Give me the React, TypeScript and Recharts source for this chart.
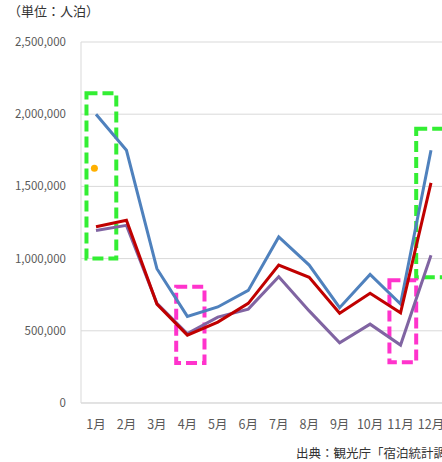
import React from "react";
import {
  LineChart,
  Line,
  XAxis,
  YAxis,
  CartesianGrid,
  ReferenceArea,
  ReferenceDot,
} from "recharts";

// 月ラベル
const months = ["1月", "2月", "3月", "4月", "5月", "6月", "7月", "8月", "9月", "10月", "11月", "12月"];

// 3系列（人泊）
const seriesBlue = [2000000, 1750000, 930000, 600000, 665000, 780000, 1150000, 955000, 660000, 890000, 685000, 1750000];
const seriesRed = [1220000, 1265000, 685000, 470000, 560000, 690000, 955000, 870000, 622000, 760000, 625000, 1525000];
const seriesPurple = [1195000, 1230000, 690000, 480000, 595000, 650000, 875000, 638000, 417000, 546000, 401000, 1023000];

const yTicks = [0, 500000, 1000000, 1500000, 2000000, 2500000];

// 注目枠（月位置 x, 値 y）
const greenBoxes = [
  { x1: 0.68, x2: 1.66, y1: 1000000, y2: 2145000 },
  { x1: 11.52, x2: 12.8, y1: 870000, y2: 1900000 },
];
const pinkBoxes = [
  { x1: 3.63, x2: 4.56, y1: 277000, y2: 805000 },
  { x1: 10.64, x2: 11.52, y1: 283000, y2: 850000 },
];
const highlightDot = { x: 0.94, y: 1625000 };

const data = months.map((m, i) => ({
  month: m,
  monthNo: i + 1,
  blue: seriesBlue[i],
  red: seriesRed[i],
  purple: seriesPurple[i],
}));

const AXIS_TEXT = "#595959";
const FONT = "'Noto Sans CJK JP', 'Noto Sans', sans-serif";

export default function App() {
  return (
    <div
      style={{
        position: "absolute",
        left: 0,
        top: 0,
        width: 442,
        height: 462,
        overflow: "hidden",
        background: "#fff",
        fontFamily: FONT,
      }}
    >
      <div style={{ position: "absolute", left: 8, top: 1, fontSize: 13, color: "#333" }}>
        （単位：人泊）
      </div>
      <LineChart
        width={451}
        height={462}
        data={data}
        margin={{ top: 42, right: 5, left: 0, bottom: 29 }}
      >
        <CartesianGrid horizontal vertical={false} stroke="#d9d9d9" />
        <XAxis
          dataKey="month"
          interval={0}
          padding={{ left: 15, right: 15 }}
          tickLine={false}
          axisLine={{ stroke: "#d9d9d9" }}
          tick={{ fontSize: 12.5, fill: AXIS_TEXT, fontFamily: FONT }}
          tickMargin={11}
          height={30}
        />
        <XAxis
          xAxisId="ann"
          dataKey="monthNo"
          type="number"
          domain={[0.5, 12.5]}
          allowDataOverflow
          hide
        />
        <YAxis
          width={81}
          domain={[0, 2500000]}
          ticks={yTicks}
          tickLine={false}
          axisLine={{ stroke: "#d9d9d9" }}
          tick={{ fontSize: 11.5, fill: AXIS_TEXT, fontFamily: FONT }}
          tickMargin={9}
          tickFormatter={(v: number) => v.toLocaleString("en-US")}
        />
        <Line type="linear" dataKey="purple" stroke="#8064a2" strokeWidth={3} dot={false} isAnimationActive={false} />
        <Line type="linear" dataKey="blue" stroke="#4f81bd" strokeWidth={3} dot={false} isAnimationActive={false} />
        <Line type="linear" dataKey="red" stroke="#c00000" strokeWidth={3} dot={false} isAnimationActive={false} />
        {greenBoxes.map((b, i) => (
          <ReferenceArea
            key={"g" + i}
            xAxisId="ann"
            x1={b.x1}
            x2={b.x2}
            y1={b.y1}
            y2={b.y2}
            fill="none"
            stroke="#33ee33"
            strokeWidth={4}
            strokeDasharray="11 5"
            ifOverflow="visible"
          />
        ))}
        {pinkBoxes.map((b, i) => (
          <ReferenceArea
            key={"p" + i}
            xAxisId="ann"
            x1={b.x1}
            x2={b.x2}
            y1={b.y1}
            y2={b.y2}
            fill="none"
            stroke="#ff33cc"
            strokeWidth={4}
            strokeDasharray="11 5"
            ifOverflow="visible"
          />
        ))}
        <ReferenceDot
          xAxisId="ann"
          x={highlightDot.x}
          y={highlightDot.y}
          r={3.5}
          fill="#ffb000"
          stroke="none"
          ifOverflow="visible"
        />
      </LineChart>
      <div
        style={{
          position: "absolute",
          left: 296,
          top: 443,
          fontSize: 12.5,
          color: "#333",
          whiteSpace: "nowrap",
        }}
      >
        出典：観光庁「宿泊統計調査」
      </div>
    </div>
  );
}
